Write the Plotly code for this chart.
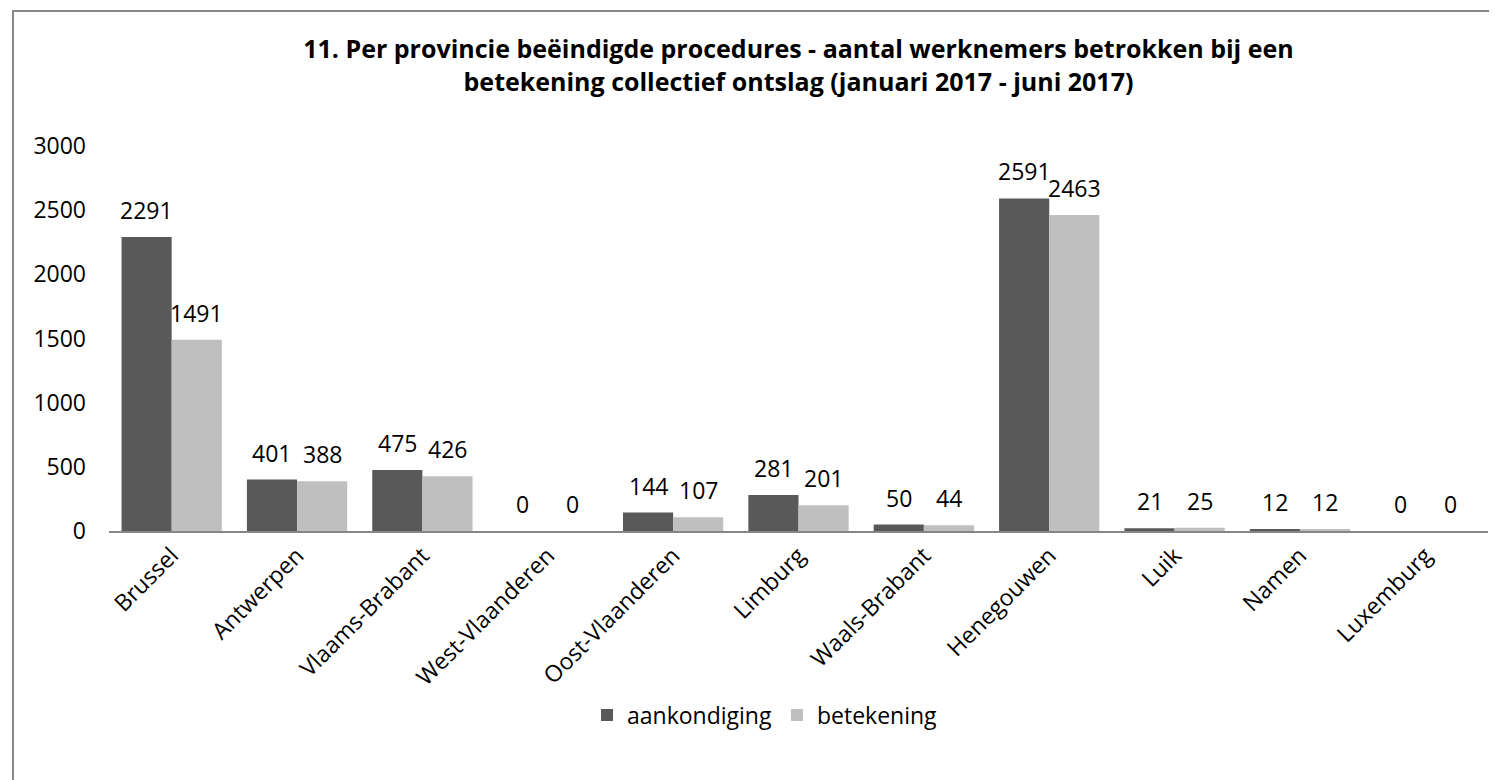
import plotly.graph_objects as go

categories = ["Brussel", "Antwerpen", "Vlaams-Brabant", "West-Vlaanderen", "Oost-Vlaanderen",
              "Limburg", "Waals-Brabant", "Henegouwen", "Luik", "Namen", "Luxemburg"]
aankondiging = [2291, 401, 475, 0, 144, 281, 50, 2591, 21, 12, 0]
betekening = [1491, 388, 426, 0, 107, 201, 44, 2463, 25, 12, 0]
series_names = ["aankondiging", "betekening"]
series_colors = ["#595959", "#bfbfbf"]
title_text = ("<b>11. Per provincie beëindigde procedures - aantal werknemers betrokken bij een<br>"
              "betekening collectief ontslag (januari 2017 - juni 2017)</b>")

FONT = "Open Sans"
FS = 23

# page body has an 8px margin; work in reference pixels and shift
OFF = 8
W, H = 1497, 780
PL, PR, PT, PB = 109, 1488, 146, 531   # plot area in reference pixels
L = PL - OFF
T = PT - OFF
R = W - (PR - OFF)
B = H - (PB - OFF)
pw = W - L - R
ph = H - T - B

def px_x(p):
    return (p - OFF - L) / pw

def px_y(p):
    return (H - B - (p - OFF)) / ph

fig = go.Figure()
for name, vals, col in zip(series_names, [aankondiging, betekening], series_colors):
    fig.add_trace(go.Bar(name=name, x=categories, y=vals, marker_color=col,
                         marker_line_width=0, hoverinfo="x+y+name"))

# data labels above bars
slot = pw / len(categories)
bw = slot * 0.8 / 2
for i, vals in enumerate([aankondiging, betekening]):
    shift = (i - 0.5) * bw
    for c, v in zip(categories, vals):
        fig.add_annotation(x=c, y=v, text=str(v), showarrow=False, xshift=shift,
                           yshift=27, yanchor="middle",
                           font=dict(family=FONT, size=FS, color="black"))

fig.update_layout(
    width=W, height=H,
    margin=dict(l=L, r=R, t=T, b=B),
    paper_bgcolor="white", plot_bgcolor="white",
    barmode="group", bargap=0.2, bargroupgap=0,
    font=dict(family=FONT, color="black", size=FS),
    title=dict(text=title_text, x=0.5, xref="paper", xanchor="center",
               y=1 - (58 - OFF) / H, yanchor="middle",
               font=dict(family=FONT, size=25, color="black")),
    showlegend=True,
    legend=dict(orientation="h", x=px_x(765), xanchor="center", y=px_y(715), yanchor="middle",
                font=dict(family=FONT, size=FS, color="black"), traceorder="normal",
                itemwidth=30),
    xaxis=dict(tickangle=-45, showline=True, linecolor="#868686", linewidth=2,
               ticks="", tickfont=dict(family=FONT, size=FS, color="black")),
    yaxis=dict(range=[0, 3000], dtick=500, showgrid=False, zeroline=False, showline=False,
               ticks="", tickfont=dict(family=FONT, size=FS, color="black"), ticklabelstandoff=22),
    shapes=[dict(type="rect", xref="paper", yref="paper",
                 x0=px_x(13), x1=px_x(1520), y0=px_y(800), y1=px_y(11),
                 line=dict(color="#868686", width=2), fillcolor="rgba(0,0,0,0)", layer="below")],
)

fig.write_html("out.html")
